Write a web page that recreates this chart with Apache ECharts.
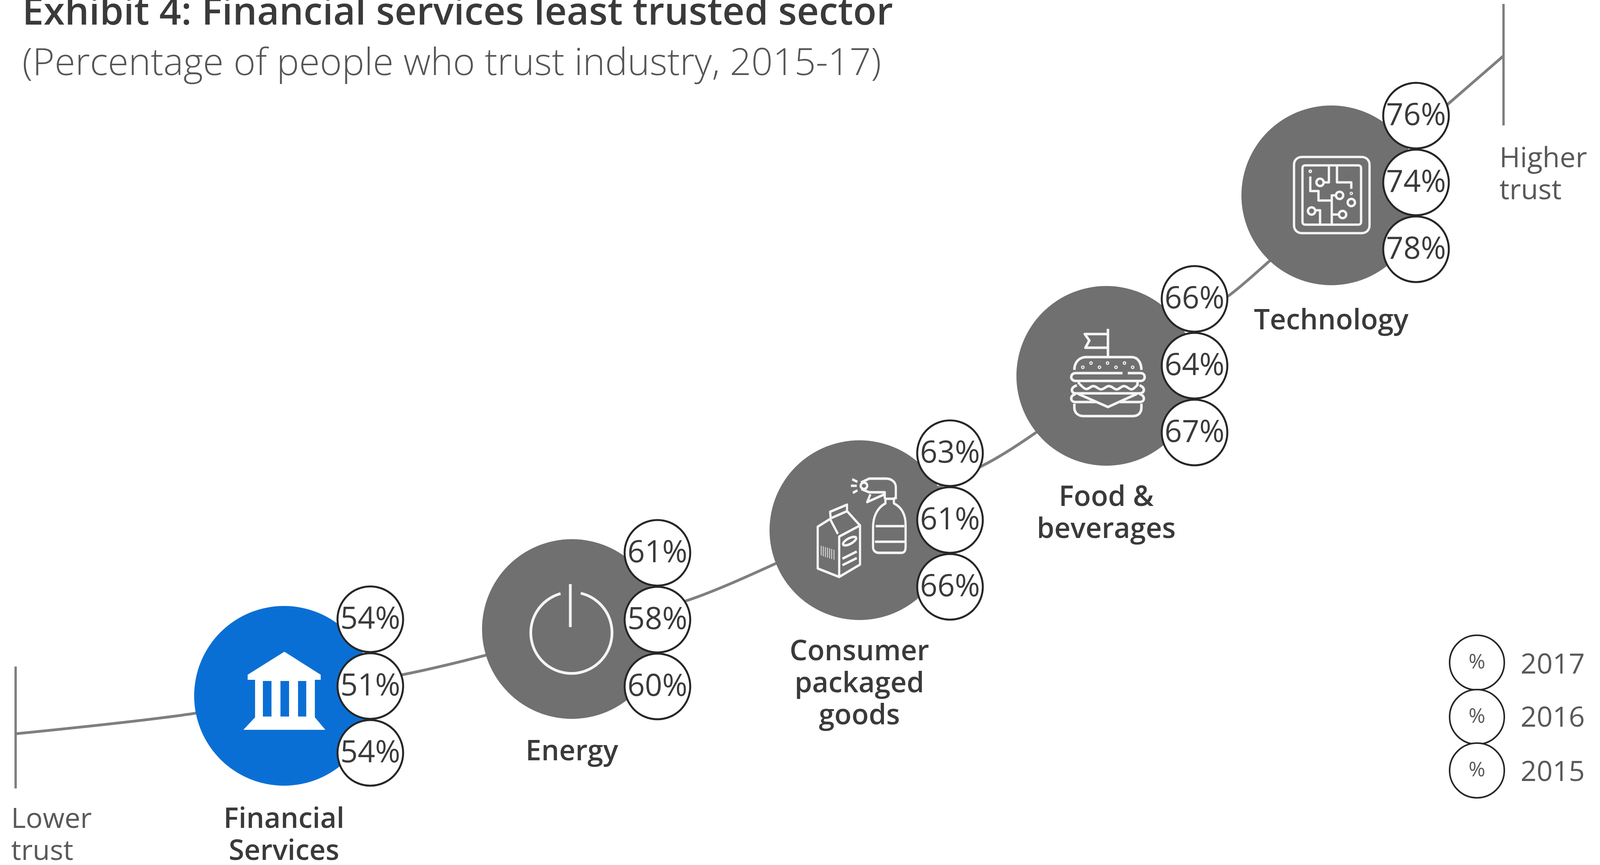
<!DOCTYPE html>
<html>
<head>
<meta charset="utf-8">
<style>html,body{margin:0;padding:0;background:#fff}#c{width:4102px;height:2214px}</style>
<script src="https://cdn.jsdelivr.net/npm/echarts@6/dist/echarts.min.js"></script>
</head>
<body>
<div id="c"></div>
<script>
// ---- data ----
const categories = ['Financial\nServices', 'Energy', 'Consumer\npackaged\ngoods', 'Food &\nbeverages', 'Technology'];
const trust2017 = [54, 61, 63, 66, 76];
const trust2016 = [51, 58, 61, 64, 74];
const trust2015 = [54, 60, 66, 67, 78];
const legendYears = ['2017', '2016', '2015'];
const titleText = 'Exhibit 4: Financial services least trusted sector';
const subtitleText = '(Percentage of people who trust industry, 2015-17)';
const lowerText = 'Lower\ntrust';
const higherText = 'Higher\ntrust';

// ---- schematic layout, in the hidden axes' units ----
const sectorX = [727, 1464, 2200, 2832, 3408];
const sectorY = [1781, 1610, 1357, 962, 500];
const sectorLabelGap = [46, 44, 41, 41, 51];
const stackX = [948, 1683, 2432, 3058, 3625];
const stackY = [1756, 1586, 1331, 936, 467];
const stackStep = 171;
const trendX = [41, 497, 1030, 1240, 1747, 1980, 2515, 2645, 3148, 3250, 3705, 3849];
const trendY = [1878, 1826, 1727, 1678, 1541, 1445, 1192, 1112, 755, 668, 268, 143];

const INK = '#3a3a3a', GREY = '#707070', BLUE = '#0a6fd4', FONT = '"Open Sans"';

// ---- icons ----
const dot = (x, y, r) => `M${x - r} ${y}a${r} ${r} 0 1 0 ${2 * r} 0a${r} ${r} 0 1 0 ${-2 * r} 0`;
const frame = (w, h) => `M0 0L0 0M${w} ${h}L${w} ${h}`;
const bankPath = 'M105 0L198 59L198 72L183 72L183 168L210 200L0 200L30 168L30 72L11 72L11 59Z' +
  'M50 75L50 166L72 166L72 75ZM95 75L95 166L117 166L117 75ZM140 75L140 166L161 166L161 75Z';
const powerPath = frame(780, 780) + 'M300 118A312 312 0 1 0 455 115M375 45L375 375';
const burgerPath = frame(780, 780) +
  'M358 35L358 250M358 75L180 75L215 125L185 180L358 180' +
  'M100 350C100 290 140 252 190 252L540 252C590 252 615 300 615 350' +
  [[165, 330], [228, 298], [293, 330], [355, 298], [420, 330], [485, 298], [548, 330]].map(p => dot(p[0], p[1], 4)).join('') +
  'M110 375L470 375M510 375L610 375C650 375 650 435 610 435L110 435C65 435 65 375 110 375' +
  'M135 440L135 462M585 440L585 462' +
  'M140 460C160 475 175 497 190 497C215 497 225 475 245 475C270 475 285 500 305 500C325 500 345 475 365 475C390 475 405 500 425 500C445 500 460 475 480 475C505 475 520 500 540 500C560 497 575 475 590 460' +
  'M120 470C70 480 70 530 110 530L600 530C645 530 645 480 600 470' +
  'M110 535C65 545 65 597 110 597L270 597M450 597L600 597C645 597 645 545 600 535' +
  'M130 535L358 635L580 535' +
  'M100 610L100 640C100 680 130 705 170 705L550 705C590 705 615 680 615 640L615 610';
const chipPath = frame(690, 690) +
  'M110 50L570 50C605 50 630 75 630 110L630 575C630 610 605 635 570 635L110 635C75 635 50 610 50 575L50 110C50 75 75 50 110 50Z' +
  'M135 115L545 115C557 115 565 123 565 135L565 550C565 562 557 570 545 570L135 570C123 570 115 562 115 550L115 135C115 123 123 115 135 115Z' +
  'M318 118L318 245L278 245' + dot(250, 245, 28) +
  'M175 200L175 312L238 312L238 385L340 385M340 568L340 345L372 345' + dot(400, 345, 28) +
  dot(175, 160, 5) +
  'M380 118L380 245L490 245L490 295' + dot(490, 330, 4) + dot(490, 400, 28) +
  dot(185, 465, 28) + 'M213 460L250 460L250 568' +
  'M340 492L395 492' + dot(423, 492, 28);
const sprayPath = frame(780, 870) +
  'M120 355L25 415L25 735L190 800L350 705L350 405L190 490L190 800M120 355L180 470M350 405L250 295' +
  'M120 300L250 245L250 295L125 350Z' +
  'M220 548A55 22 -25 1 1 320 502A55 22 -25 1 1 220 548' +
  'M215 660L325 605M215 710L325 655' +
  'M545 200L610 200M545 200L545 235C480 270 450 340 450 420L450 570C450 600 470 615 495 615L665 615C690 615 700 600 700 570L700 400C700 320 670 265 610 235L610 190' +
  'M470 410L690 410M465 530L695 530' +
  'M610 195L625 195L625 110C625 70 590 45 550 45L420 45L358 75' + dot(380, 100, 25) +
  'M360 125L420 150L540 150L540 200M540 165L405 225L430 165' +
  'M290 50L330 70M280 100L325 100M295 155L330 135';
const barcodePath = frame(780, 870) + 'M52 560L52 635M68 565L68 642M84 570L84 648M100 575L100 652M116 580L116 658M132 585L132 662M150 590L150 668';

const lineIcon = (x, y, w, h, path, width, op) => ({
  value: [x, y], symbol: 'path://' + path, symbolSize: [w, h],
  itemStyle: { color: 'rgba(0,0,0,0)', borderColor: '#f4f4f4', borderWidth: width, opacity: op == null ? 1 : op, borderJoin: 'round' }
});

const stackSeries = (values, row) => ({
  type: 'scatter', z: 6, silent: true, symbolSize: 168,
  itemStyle: { color: '#fff', borderColor: '#262626', borderWidth: 5, opacity: 1 },
  label: { show: true, position: 'inside', offset: [0, 2], color: INK, fontFamily: FONT, fontSize: 78, formatter: p => p.value[2] + '%' },
  data: values.map((v, i) => [stackX[i], stackY[i] + row * stackStep, v])
});

const chart = echarts.init(document.getElementById('c'), null, { renderer: 'canvas' });
chart.setOption({
  animation: false,
  backgroundColor: '#fff',
  title: [
    { text: titleText, left: 52, top: -30, textStyle: { fontFamily: FONT, fontWeight: 600, fontSize: 98, color: INK, lineHeight: 120 } },
    { text: subtitleText, left: 52, top: 95, textStyle: { fontFamily: FONT, fontWeight: 300, fontSize: 96.5, color: '#555', lineHeight: 130 } }
  ],
  grid: { left: 0, right: 0, top: 0, bottom: 0 },
  xAxis: { type: 'value', min: 0, max: 4102, show: false },
  yAxis: { type: 'value', min: 0, max: 2214, inverse: true, show: false },
  series: [
    { type: 'line', z: 2, silent: true, smooth: 0.3, symbol: 'none', lineStyle: { color: '#7f7f7f', width: 7 },
      data: trendX.map((x, i) => [x, trendY[i]]) },
    { type: 'line', z: 2, silent: true, symbol: 'none', lineStyle: { color: '#7f7f7f', width: 6 }, data: [[40, 1706], [40, 2018]] },
    { type: 'line', z: 2, silent: true, symbol: 'none', lineStyle: { color: '#7f7f7f', width: 6 }, data: [[3849, 10], [3849, 321]] },
    { type: 'scatter', z: 4, silent: true, symbolSize: 460,
      label: { show: true, position: 'bottom', align: 'center', verticalAlign: 'top', color: INK, fontFamily: FONT, fontWeight: 600, fontSize: 72, lineHeight: 82, formatter: p => categories[p.dataIndex] },
      data: sectorX.map((x, i) => ({ value: [x, sectorY[i]], label: { distance: sectorLabelGap[i] }, itemStyle: { color: i === 0 ? BLUE : GREY, opacity: 1 } })) },
    { type: 'scatter', z: 5, silent: true,
      data: [
        { value: [728, 1768], symbol: 'path://' + bankPath, symbolSize: [210, 200], itemStyle: { color: '#fff', opacity: 1 } },
        lineIcon(1465, 1610, 260, 260, powerPath, 7),
        lineIcon(2215, 1355, 260, 290, sprayPath, 6),
        lineIcon(2215, 1355, 260, 290, barcodePath, 2.5, 0.75),
        lineIcon(2847, 960, 260, 260, burgerPath, 6.5),
        lineIcon(3411, 500, 230, 230, chipPath, 6)
      ] },
    stackSeries(trust2017, -1),
    stackSeries(trust2016, 0),
    stackSeries(trust2015, 1),
    { type: 'scatter', z: 6, silent: true, symbolSize: 140,
      itemStyle: { color: '#fff', borderColor: '#262626', borderWidth: 4, opacity: 1 },
      label: { show: true, position: 'inside', color: '#595959', fontFamily: FONT, fontSize: 52, formatter: '%' },
      data: [[3781, 1696], [3781, 1835], [3781, 1972]] },
    { type: 'scatter', z: 6, silent: true, symbolSize: 1, itemStyle: { color: 'rgba(0,0,0,0)', opacity: 1 },
      label: { show: true, position: 'right', distance: 0, align: 'left', verticalAlign: 'middle', color: '#595959', fontFamily: FONT, fontSize: 72,
        formatter: p => legendYears[p.dataIndex] },
      data: [[3892, 1703], [3892, 1839], [3892, 1978]] },
    { type: 'scatter', z: 6, silent: true, symbolSize: 1, itemStyle: { color: 'rgba(0,0,0,0)', opacity: 1 },
      label: { show: true, position: 'right', distance: 0, align: 'left', verticalAlign: 'top', color: '#595959', fontFamily: FONT, fontSize: 72, lineHeight: 82,
        formatter: p => p.dataIndex === 0 ? lowerText : higherText },
      data: [[28, 2057], [3838, 366]] }
  ]
});
</script>
</body>
</html>
